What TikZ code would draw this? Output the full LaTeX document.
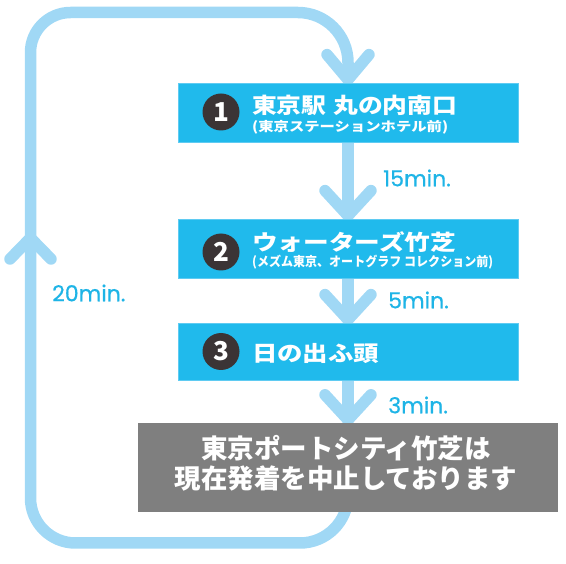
\documentclass[tikz,border=0pt]{standalone}
\usepackage{fontspec}
\usepackage{graphicx}
\usetikzlibrary{calc}
\newfontfamily\jp{Noto Sans CJK JP}
\newfontfamily\lab{Poppins}[FakeBold=0.6]
\definecolor{boxc}{RGB}{32,186,236}
\definecolor{boxedge}{RGB}{95,203,242}
\definecolor{flowc}{RGB}{160,216,245}
\definecolor{numc}{RGB}{59,52,53}
\definecolor{tmc}{RGB}{30,180,230}
\definecolor{greyc}{RGB}{127,127,127}
\pgfdeclarelayer{bg}
\pgfsetlayers{bg,main}
\begin{document}
\begin{tikzpicture}[x=1pt,y=-1pt,
  box/.style={rectangle, fill=boxc, draw=boxedge, line width=0.8pt, minimum width=340pt, minimum height=59pt, inner sep=0},
  greybox/.style={rectangle, fill=greyc, minimum width=420pt, minimum height=89pt, inner sep=0},
  flow/.style={draw=flowc, line width=11.5pt, line cap=round, line join=round},
  num/.style={circle, fill=numc, minimum size=37pt, inner sep=0, text=white, font=\jp\bfseries\fontsize{26}{26}\selectfont},
  ttl/.style={anchor=west, inner sep=0, text=white, font=\jp\bfseries\fontsize{21.5}{21.5}\selectfont},
  sub/.style={anchor=west, inner sep=0, text=white, font=\jp\bfseries\fontsize{13}{13}\selectfont},
  gtxt/.style={inner sep=0, text=white, font=\jp\bfseries\fontsize{26.5}{26.5}\selectfont},
  tm/.style={anchor=west, inner sep=0, text=tmc, font=\lab\fontsize{22}{22}\selectfont},
]
\useasboundingbox (0,0) rectangle (566,564);

% boxes
\node[box] (b1) at (348,112.5) {};
\node[box] (b2) at (348,248.5) {};
\node[box, minimum height=57pt] (b3) at (348,351.5) {};
\node[greybox] (b4) at (348,467.5) {};

% numbers
\node[num] (n1) at (221,112) {1};
\node[num] (n2) at (221,252) {2};
\node[num] (n3) at (221,351.5) {3};

% titles
\node[ttl] (t1) at (252,105) {\resizebox{205pt}{\height}{東京駅\hspace{6pt}丸の内南口}};
\node[sub] (s1) at (252,127.5) {\resizebox{196pt}{\height}{(東京ステーションホテル前)}};
\node[ttl] (t2) at (252,242) {\resizebox{204pt}{\height}{ウォーターズ竹芝}};
\node[sub] (s2) at (252,262) {\resizebox{241pt}{\height}{(メズム東京、オートグラフ コレクション前)}};
\node[ttl] (t3) at (252,353) {\resizebox{127pt}{\height}{日の出ふ頭}};

% grey text
\node[gtxt] (g1) at (346,448) {東京ポートシティ竹芝は};
\node[gtxt] (g2) at (346,478) {現在発着を中止しております};

% times
\node[tm] (m1) at (383,178) {15min.};
\node[tm] (m2) at (388,300) {5min.};
\node[tm] (m3) at (388,405) {3min.};
\node[tm] (m0) at (52,293) {20min.};

\begin{pgfonlayer}{bg}
  % down arrows
  \draw[flow] (b1.south) -- ($(b2.north)+(0,-3)$);
  \draw[flow] ($(b2.north)+(-23,-28)$) -- ($(b2.north)+(0,-3)$) -- ($(b2.north)+(23,-28)$);
  \draw[flow] (b2.south) -- ($(b3.north)+(0,-3)$);
  \draw[flow] ($(b3.north)+(-23,-28)$) -- ($(b3.north)+(0,-3)$) -- ($(b3.north)+(23,-28)$);
  \draw[flow] (b3.south) -- ($(b4.north)+(0,-3)$);
  \draw[flow] ($(b4.north)+(-23,-28)$) -- ($(b4.north)+(0,-3)$) -- ($(b4.north)+(23,-28)$);
  % loop
  \draw[flow] (b4.center) -- (348,495) arc[start angle=0,end angle=90,radius=48]
     -- (75.5,543) arc[start angle=90,end angle=180,radius=45]
     -- (30.5,52.5) arc[start angle=180,end angle=270,radius=40]
     -- (298,12.5) arc[start angle=270,end angle=360,radius=50]
     -- ($(b1.north)+(0,-3)$);
  \draw[flow] ($(b1.north)+(-21,-28)$) -- ($(b1.north)+(0,-3)$) -- ($(b1.north)+(21,-28)$);
  \coordinate (lt) at (30.5,238);
  \draw[flow] ($(lt)+(-20.5,21)$) -- (lt) -- ($(lt)+(20.5,21)$);
\end{pgfonlayer}
\end{tikzpicture}
\end{document}
